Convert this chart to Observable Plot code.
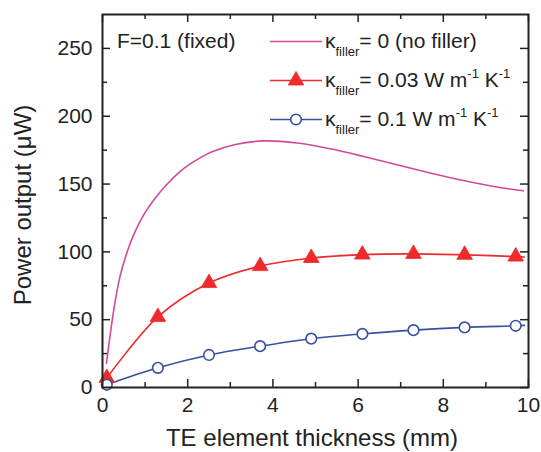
<!DOCTYPE html>
<html>
<head>
<meta charset="utf-8">
<script src="https://cdn.jsdelivr.net/npm/d3@7"></script>
<script src="https://cdn.jsdelivr.net/npm/@observablehq/plot@0.6"></script>
<style>
  html, body { margin: 0; padding: 0; background: #fff; }
  #chart svg { display: block; }
</style>
</head>
<body>
<div id="chart"></div>
<script>
// ---- data ----
const pinkX = [0.094, 0.19, 0.30, 0.42, 0.58, 0.73, 0.97, 1.20, 1.52, 1.91, 2.30, 2.57, 3.12, 3.78, 4.57, 5.35, 6.13, 6.91, 7.69, 8.47, 9.25, 9.88];
const pinkY = [18, 41, 64, 83, 100, 112.5, 127.5, 138, 150, 161.5, 169.5, 173.8, 179.2, 181.8, 180.3, 176, 170.3, 164.2, 158.2, 152.6, 147.8, 145];

const markerX = [0.1, 1.3, 2.5, 3.7, 4.9, 6.1, 7.3, 8.5, 9.7];
const redY = [7, 52, 77, 89.5, 95.5, 98, 98.5, 97.8, 96.5];
const blueY = [2, 14.5, 24, 30.5, 36, 39.5, 42.3, 44.3, 45.5];
const lineEndX = 9.9;
const redEndY = 96.2;
const blueEndY = 45.8;

const xMajor = [0, 2, 4, 6, 8, 10];
const xMinor = [1, 3, 5, 7, 9];
const yMajor = [0, 50, 100, 150, 200, 250];
const yMinor = [25, 75, 125, 175, 225];

const colors = { pink: "#d4489c", red: "#ee2a2a", blue: "#3651a4" };

// ---- tables ----
const pink = pinkX.map((x, i) => ({ x, y: pinkY[i] }));
const red = markerX.map((x, i) => ({ x, y: redY[i] }));
const blue = markerX.map((x, i) => ({ x, y: blueY[i] }));
const redLine = red.concat([{ x: lineEndX, y: redEndY }]);
const blueLine = blue.concat([{ x: lineEndX, y: blueEndY }]);

const W = 541, H = 452, mL = 102, mR = 13, mT = 14, mB = 65;
const fh = H - mT - mB, fw = W - mL - mR;
const font = "'Liberation Sans', Arial, Helvetica, sans-serif";

const plot = Plot.plot({
  width: W, height: H,
  marginLeft: mL, marginRight: mR, marginTop: mT, marginBottom: mB,
  style: { fontFamily: font, background: "#fff", color: "#222" },
  x: { domain: [0, 10] },
  y: { domain: [0, 275] },
  marks: [
    Plot.axisX(xMajor, { tickSize: 0, tickPadding: 10, fontSize: 21, label: null, fill: "#222" }),
    Plot.axisY(yMajor, { tickSize: 0, tickPadding: 10, fontSize: 21, label: null, fill: "#222" }),
    // inward ticks
    Plot.ruleX(xMajor, { x: d => d, insetTop: fh - 8, stroke: "#222", strokeWidth: 1.5 }),
    Plot.ruleX(xMajor, { x: d => d, insetBottom: fh - 8, stroke: "#222", strokeWidth: 1.5 }),
    Plot.ruleX(xMinor, { x: d => d, insetTop: fh - 5, stroke: "#222", strokeWidth: 1.5 }),
    Plot.ruleX(xMinor, { x: d => d, insetBottom: fh - 5, stroke: "#222", strokeWidth: 1.5 }),
    Plot.ruleY(yMajor, { y: d => d, insetRight: fw - 8, stroke: "#222", strokeWidth: 1.5 }),
    Plot.ruleY(yMajor, { y: d => d, insetLeft: fw - 8, stroke: "#222", strokeWidth: 1.5 }),
    Plot.ruleY(yMinor, { y: d => d, insetRight: fw - 5, stroke: "#222", strokeWidth: 1.5 }),
    Plot.ruleY(yMinor, { y: d => d, insetLeft: fw - 5, stroke: "#222", strokeWidth: 1.5 }),
    // data
    Plot.line(pink, { x: "x", y: "y", stroke: colors.pink, strokeWidth: 1.6, curve: "catmull-rom" }),
    Plot.line(redLine, { x: "x", y: "y", stroke: colors.red, strokeWidth: 1.6, curve: "catmull-rom" }),
    Plot.line(blueLine, { x: "x", y: "y", stroke: colors.blue, strokeWidth: 1.6, curve: "catmull-rom" }),
    Plot.dot(red, { x: "x", y: "y", symbol: "triangle", r: 5.8, fill: colors.red, stroke: colors.red, strokeWidth: 0.8 }),
    Plot.dot(blue, { x: "x", y: "y", symbol: "circle", r: 5.3, fill: "#fff", stroke: colors.blue, strokeWidth: 1.6 }),
    Plot.frame({ stroke: "#222", strokeWidth: 2 })
  ]
});
document.getElementById("chart").appendChild(plot);

// ---- annotations, titles and legend ----
const svg = d3.select(plot);
const g = svg.append("g").attr("font-family", font).attr("fill", "#222").attr("text-anchor", "start");

g.append("text").attr("x", 117).attr("y", 48).attr("font-size", 21).text("F=0.1 (fixed)");

g.append("text")
  .attr("x", 312).attr("y", 446)
  .attr("text-anchor", "middle").attr("font-size", 24)
  .text("TE element thickness (mm)");

g.append("text")
  .attr("transform", "translate(31,205) rotate(-90)")
  .attr("text-anchor", "middle").attr("font-size", 24)
  .text("Power output (\u03BCW)");

const legend = [
  { color: colors.pink, marker: null, value: "= 0 (no filler)", units: false },
  { color: colors.red, marker: "triangle", value: "= 0.03 W m", units: true },
  { color: colors.blue, marker: "circle", value: "= 0.1 W m", units: true }
];
legend.forEach((d, i) => {
  const base = 48 + i * 39;
  const ly = base - 6.5;
  g.append("line").attr("x1", 270).attr("x2", 322).attr("y1", ly).attr("y2", ly)
    .attr("stroke", d.color).attr("stroke-width", 1.6);
  if (d.marker === "triangle") {
    g.append("path")
      .attr("d", d3.symbol(d3.symbolTriangle, Math.PI * 5.8 * 5.8)())
      .attr("transform", `translate(296,${ly})`)
      .attr("fill", d.color).attr("stroke", d.color).attr("stroke-width", 0.8);
  } else if (d.marker === "circle") {
    g.append("circle").attr("cx", 296).attr("cy", ly).attr("r", 5.3)
      .attr("fill", "#fff").attr("stroke", d.color).attr("stroke-width", 1.6);
  }
  const t = g.append("text").attr("x", 325).attr("y", base).attr("font-size", 21);
  t.append("tspan").text("\u03BA");
  t.append("tspan").attr("font-size", 13).attr("dy", 8).text("filler");
  t.append("tspan").attr("dy", -8).text(d.value);
  if (d.units) {
    t.append("tspan").attr("font-size", 13).attr("dy", -9).text("-1");
    t.append("tspan").attr("dy", 9).text(" K");
    t.append("tspan").attr("font-size", 13).attr("dy", -9).text("-1");
  }
});
</script>
</body>
</html>
